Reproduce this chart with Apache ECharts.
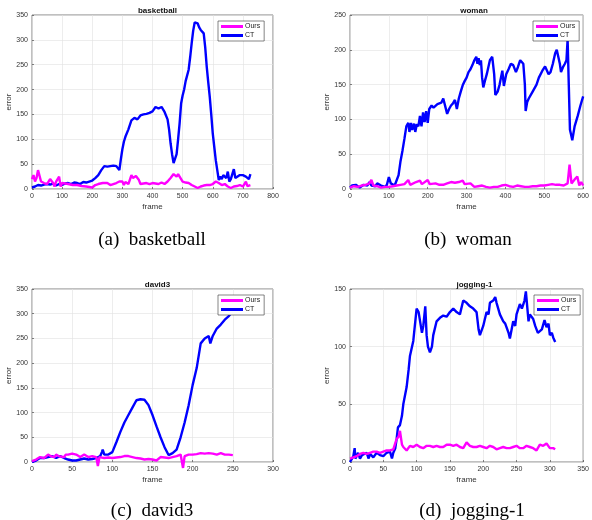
<!DOCTYPE html>
<html>
<head>
<meta charset="utf-8">
<script src="https://cdn.jsdelivr.net/npm/echarts@6/dist/echarts.min.js"></script>
<style>
  html, body { margin: 0; padding: 0; background: #fff; }
  #chart { width: 592px; height: 520px; }
</style>
</head>
<body>
<div id="chart"></div>
<script>
// [frame, error] pairs
var basketballOurs = [[0,20],[5,28],[10,15],[15,22],[20,38],[25,35],[30,15],[40,12],[50,10],[60,20],[65,23],[70,12],[75,5],[80,15],[90,25],[95,5],[100,12],[120,10],[135,8],[150,8],[165,6],[180,5],[200,3],[210,8],[220,10],[235,12],[250,12],[260,8],[270,10],[280,12],[290,15],[300,15],[305,8],[310,14],[320,10],[330,28],[335,22],[340,20],[345,26],[350,28],[355,18],[360,10],[370,11],[380,12],[390,10],[400,12],[410,11],[420,10],[430,13],[440,10],[450,15],[460,22],[470,30],[475,33],[480,25],[485,30],[490,28],[500,15],[510,13],[520,12],[530,8],[540,5],[550,2],[560,5],[570,7],[580,8],[590,8],[600,10],[610,15],[620,12],[630,8],[640,10],[650,5],[660,2],[670,5],[680,6],[690,8],[700,5],[705,10],[710,15],[715,6],[720,8],[725,8]];
var basketballCT = [[0,3],[5,6],[10,5],[20,8],[30,7],[40,9],[50,10],[60,9],[70,11],[80,7],[90,10],[100,8],[110,11],[120,12],[130,10],[140,13],[150,12],[160,10],[170,14],[180,13],[190,15],[200,17],[210,22],[220,28],[230,38],[240,46],[245,44],[250,45],[260,46],[270,47],[280,46],[285,45],[290,38],[295,60],[300,80],[305,95],[310,105],[320,120],[330,138],[335,142],[340,143],[345,139],[350,140],[360,148],[370,150],[380,151],[390,153],[400,156],[410,165],[415,162],[420,162],[425,165],[430,165],[440,155],[450,140],[455,120],[460,92],[465,70],[470,52],[475,48],[480,70],[485,100],[490,132],[495,172],[500,188],[505,200],[510,217],[515,220],[520,240],[525,265],[530,293],[535,318],[540,335],[545,336],[550,333],[555,325],[560,320],[565,316],[570,313],[575,285],[580,246],[585,215],[590,186],[595,150],[600,112],[605,85],[610,58],[615,38],[620,18],[625,25],[630,20],[635,28],[640,30],[645,22],[650,35],[655,15],[660,20],[665,30],[670,40],[675,22],[680,25],[690,28],[700,28],[710,25],[715,27],[720,20],[725,30]];

var womanOurs = [[0,2],[10,4],[20,3],[30,5],[40,6],[50,8],[55,13],[60,5],[70,4],[80,2],[90,3],[100,3],[110,4],[120,5],[130,6],[140,7],[150,13],[155,6],[160,5],[170,10],[180,12],[185,7],[190,5],[200,13],[205,7],[210,5],[220,8],[230,6],[240,6],[250,8],[260,10],[270,9],[280,10],[290,12],[295,7],[300,5],[310,8],[320,3],[330,4],[340,5],[350,3],[360,2],[370,3],[380,3],[390,5],[400,6],[410,4],[420,3],[430,5],[440,4],[450,3],[460,3],[470,4],[480,4],[490,5],[500,5],[510,6],[520,7],[530,6],[540,6],[550,5],[560,8],[565,35],[570,8],[575,10],[580,15],[585,18],[590,5],[595,10],[600,5]];
var womanCT = [[0,2],[5,5],[10,3],[15,6],[20,5],[25,2],[30,3],[35,6],[40,8],[45,5],[50,10],[55,5],[60,3],[65,4],[70,8],[75,6],[80,5],[85,4],[90,3],[95,6],[100,17],[105,8],[110,8],[115,5],[120,5],[125,20],[130,40],[135,55],[140,72],[145,90],[150,95],[153,82],[157,95],[160,85],[165,94],[168,82],[172,93],[176,90],[180,105],[184,90],[188,110],[192,96],[196,112],[200,95],[204,115],[210,120],[215,117],[220,118],[225,122],[230,120],[235,124],[240,130],[245,130],[250,108],[255,115],[260,120],[265,123],[270,128],[275,115],[280,130],[285,140],[290,149],[295,155],[300,160],[305,168],[310,172],[315,178],[320,185],[325,190],[328,180],[331,188],[334,178],[337,185],[340,160],[343,146],[347,155],[352,165],[356,175],[360,185],[366,190],[371,165],[374,135],[380,140],[385,150],[392,170],[396,148],[402,165],[408,172],[414,180],[420,178],[427,168],[432,175],[438,185],[446,180],[450,150],[452,112],[456,125],[460,130],[470,140],[480,150],[486,160],[495,170],[502,176],[507,170],[511,165],[516,168],[522,180],[528,195],[532,200],[536,190],[540,180],[543,168],[548,175],[553,180],[557,185],[560,215],[563,150],[566,85],[569,78],[572,70],[578,90],[586,105],[593,120],[600,133]];

var david3Ours = [[0,2],[5,5],[10,10],[15,8],[20,15],[23,12],[25,15],[28,10],[30,15],[33,12],[35,13],[40,10],[42,15],[45,15],[50,17],[55,15],[60,10],[65,15],[70,10],[75,12],[80,10],[82,-8],[84,10],[87,9],[90,8],[95,9],[100,8],[105,9],[110,10],[115,12],[120,12],[125,10],[130,8],[135,7],[140,5],[145,6],[150,5],[155,3],[160,10],[165,9],[170,8],[175,10],[180,12],[185,15],[188,-12],[190,12],[195,15],[200,15],[205,16],[210,18],[215,17],[220,18],[225,17],[230,15],[235,18],[240,15],[245,15],[250,14]];
var david3CT = [[0,0],[5,3],[10,8],[15,8],[20,10],[25,12],[30,8],[35,12],[40,8],[45,5],[50,3],[55,3],[60,5],[65,7],[70,5],[75,6],[80,8],[85,12],[87,20],[88,25],[90,15],[95,15],[100,20],[105,40],[110,61],[115,80],[120,95],[125,110],[130,125],[135,127],[140,126],[145,115],[150,95],[155,72],[160,50],[165,30],[170,14],[175,18],[180,25],[185,50],[190,80],[195,115],[200,156],[205,190],[210,240],[215,250],[220,255],[222,240],[225,255],[230,270],[235,278],[240,288],[245,295],[248,302]];

var joggingOurs = [[0,3],[5,4],[10,5],[15,7],[20,8],[25,7],[30,8],[35,9],[40,9],[45,8],[50,9],[55,10],[60,10],[65,11],[70,20],[73,22],[75,27],[78,15],[80,13],[85,10],[90,14],[95,13],[100,15],[105,13],[110,12],[115,14],[120,14],[125,13],[130,14],[135,13],[140,13],[145,15],[150,15],[155,14],[160,15],[165,13],[170,12],[175,17],[180,14],[185,13],[190,13],[195,14],[200,13],[205,12],[210,14],[215,13],[220,11],[225,12],[230,13],[235,12],[240,12],[245,13],[250,14],[255,12],[260,12],[265,14],[270,13],[275,12],[280,10],[285,15],[290,14],[295,16],[300,12],[305,12],[308,11]];
var joggingCT = [[0,0],[3,3],[5,5],[7,12],[8,3],[10,5],[12,8],[15,3],[18,6],[20,5],[25,8],[28,3],[30,7],[35,4],[40,8],[45,6],[50,5],[55,8],[60,9],[63,3],[65,8],[68,12],[70,20],[72,30],[75,32],[78,40],[80,50],[85,65],[88,80],[90,92],[95,105],[100,133],[103,130],[105,130],[108,112],[110,118],[113,135],[115,110],[117,100],[120,95],[123,100],[125,110],[130,122],[135,125],[140,127],[145,126],[150,130],[155,133],[160,130],[165,128],[170,140],[175,138],[180,135],[185,133],[190,130],[193,115],[195,110],[200,118],[205,130],[208,128],[210,138],[215,140],[218,143],[220,138],[225,128],[230,122],[233,120],[238,112],[240,107],[245,122],[248,118],[250,128],[255,137],[258,133],[262,140],[264,148],[268,122],[270,128],[275,124],[278,118],[282,112],[288,115],[292,123],[295,117],[298,120],[300,110],[303,112],[305,108],[308,104]];

var titles = ['basketball', 'woman', 'david3', 'jogging-1'];
var captions = ['(a)  basketball', '(b)  woman', '(c)  david3', '(d)  jogging-1'];
var yMax = [350, 250, 350, 150];
var xMax = [800, 600, 300, 350];
var xStep = [100, 100, 50, 50];

var ours = [basketballOurs, womanOurs, david3Ours, joggingOurs];
var ct = [basketballCT, womanCT, david3CT, joggingCT];

var grids = [
  { left: 32, top: 15, width: 241, height: 174 },
  { left: 350, top: 15, width: 238, height: 174 },
  { left: 32, top: 289, width: 241, height: 173 },
  { left: 350, top: 289, width: 239, height: 173 }
];
var captionPos = [[147, 226], [463, 226], [147, 497], [467, 497]];

var chart = echarts.init(document.getElementById('chart'));

var option = {
  backgroundColor: '#fff',
  animation: false,
  title: [],
  legend: [],
  grid: [],
  xAxis: [],
  yAxis: [],
  series: []
};

for (var i = 0; i < 4; i++) {
  var g = grids[i];
  option.grid.push({
    left: g.left, top: g.top, width: g.width, height: g.height,
    show: true, borderColor: '#2b2b2b', borderWidth: 0.6, backgroundColor: '#fff'
  });
  // small bold title above each plot
  option.title.push({
    text: titles[i], left: g.left + g.width / 2, top: g.top - 13, textAlign: 'center',
    textStyle: { fontFamily: 'Liberation Sans', fontSize: 8, fontWeight: 'bold', color: '#111' }
  });
  // serif caption under each plot
  option.title.push({
    text: captions[i], left: captionPos[i][0], top: captionPos[i][1], textAlign: 'center',
    textStyle: { fontFamily: 'Liberation Serif', fontSize: 19, fontWeight: 'normal', color: '#000', lineHeight: 19 }
  });
  option.legend.push({
    data: ['Ours', 'CT'],
    orient: 'vertical',
    left: g.left + g.width - 55,
    top: g.top + 6,
    backgroundColor: '#fff',
    borderColor: '#333',
    borderWidth: 0.6,
    borderRadius: 0,
    padding: [2, 4, 2, 3],
    itemGap: 2,
    itemWidth: 22,
    itemHeight: 3,
    icon: 'rect',
    textStyle: { fontFamily: 'Liberation Sans', fontSize: 7, color: '#222', padding: [0, 0, 0, -3] }
  });
  option.xAxis.push({
    type: 'value', gridIndex: i, min: 0, max: xMax[i], interval: xStep[i],
    name: 'frame', nameLocation: 'middle', nameGap: 14,
    nameTextStyle: { fontFamily: 'Liberation Sans', fontSize: 8, color: '#333' },
    axisLine: { show: false },
    axisTick: { inside: true, length: 2, lineStyle: { color: '#333', width: 0.6 } },
    axisLabel: { fontFamily: 'Liberation Sans', fontSize: 7, color: '#333', margin: 4 },
    splitLine: { show: true, lineStyle: { color: '#e0e0e0', width: 0.6 } }
  });
  option.yAxis.push({
    type: 'value', gridIndex: i, min: 0, max: yMax[i], interval: 50,
    name: 'error', nameLocation: 'middle', nameGap: 17,
    nameTextStyle: { fontFamily: 'Liberation Sans', fontSize: 8, color: '#333' },
    axisLine: { show: false },
    axisTick: { inside: true, length: 2, lineStyle: { color: '#333', width: 0.6 } },
    axisLabel: { fontFamily: 'Liberation Sans', fontSize: 7, color: '#333', margin: 4 },
    splitLine: { show: true, lineStyle: { color: '#e0e0e0', width: 0.6 } }
  });
  option.series.push({
    name: 'Ours', type: 'line', xAxisIndex: i, yAxisIndex: i,
    data: ours[i], showSymbol: false, clip: false, color: '#ff00ff',
    lineStyle: { color: '#ff00ff', width: 2.4 }, z: 3
  });
  option.series.push({
    name: 'CT', type: 'line', xAxisIndex: i, yAxisIndex: i,
    data: ct[i], showSymbol: false, color: '#0000ff',
    lineStyle: { color: '#0000ff', width: 2.4 }, z: 2
  });
}

chart.setOption(option);
</script>
</body>
</html>
